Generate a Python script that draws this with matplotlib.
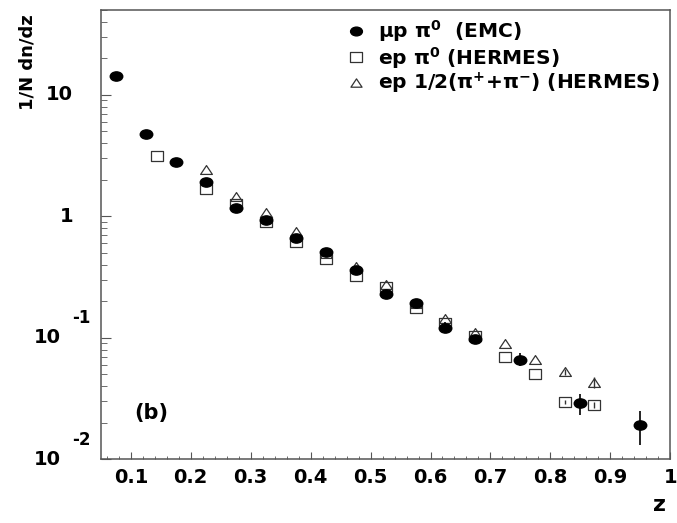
import matplotlib
matplotlib.use("Agg")
import matplotlib.pyplot as plt
from matplotlib.path import Path
from matplotlib.transforms import Affine2D, blended_transform_factory
from matplotlib.lines import Line2D
from matplotlib.ticker import FixedLocator, MultipleLocator, NullFormatter

plt.rcParams["font.family"] = "DejaVu Sans"
plt.rcParams["font.weight"] = "bold"
plt.rcParams["mathtext.fontset"] = "dejavusans"

# EMC, mu p -> pi0
emc_z = [0.075, 0.125, 0.175, 0.225, 0.275, 0.325, 0.375, 0.425, 0.475, 0.525,
         0.575, 0.625, 0.675, 0.75, 0.85, 0.95]
emc_y = [14.3, 4.73, 2.79, 1.90, 1.17, 0.93, 0.658, 0.504, 0.36, 0.231,
         0.195, 0.121, 0.097, 0.066, 0.0288, 0.0191]
emc_elo = [0, 0, 0, 0, 0, 0, 0, 0, 0, 0, 0, 0.012, 0.008, 0.008, 0.0058, 0.0061]
emc_ehi = [0, 0, 0, 0, 0, 0, 0, 0, 0, 0, 0, 0.014, 0.009, 0.009, 0.0056, 0.0059]

# HERMES, e p -> pi0
h0_z = [0.143, 0.225, 0.275, 0.325, 0.375, 0.425, 0.475, 0.525, 0.575, 0.625,
        0.675, 0.725, 0.775, 0.825, 0.873]
h0_y = [3.16, 1.69, 1.27, 0.89, 0.61, 0.445, 0.324, 0.262, 0.177, 0.133,
        0.103, 0.069, 0.050, 0.0296, 0.0278]
h0_err = [0, 0, 0, 0, 0, 0, 0, 0, 0, 0, 0, 0, 0, 0.0012, 0.0015]

# HERMES, e p -> 1/2(pi+ + pi-)
hc_z = [0.225, 0.275, 0.325, 0.375, 0.425, 0.475, 0.525, 0.575, 0.625, 0.675,
        0.725, 0.775, 0.825, 0.873]
hc_y = [2.39, 1.44, 1.06, 0.737, 0.49, 0.384, 0.272, 0.19, 0.142, 0.110,
        0.088, 0.065, 0.0525, 0.042]
hc_elo = [0, 0, 0, 0, 0, 0, 0, 0, 0, 0, 0, 0, 0.003, 0.0036]
hc_ehi = [0, 0, 0, 0, 0, 0, 0, 0, 0, 0, 0, 0, 0.003, 0.0058]

ytick_vals = [0.01, 0.1, 1, 10]
ytick_base = ["10", "10", "1", "10"]
ytick_exp = ["-2", "-1", "", ""]
xtick_vals = [0.1, 0.2, 0.3, 0.4, 0.5, 0.6, 0.7, 0.8, 0.9, 1.0]
xtick_labels = ["0.1", "0.2", "0.3", "0.4", "0.5", "0.6", "0.7", "0.8", "0.9", "1"]

# markers stretched sideways like the scanned figure
ellipse = Path.unit_circle().transformed(Affine2D().scale(1.35, 1.0))
box = Path([(-1.35, -1), (1.35, -1), (1.35, 1), (-1.35, 1), (-1.35, -1)],
           [Path.MOVETO, Path.LINETO, Path.LINETO, Path.LINETO, Path.CLOSEPOLY])
tri = Path([(-1.2, -0.8), (1.2, -0.8), (0, 1.0), (-1.2, -0.8)],
           [Path.MOVETO, Path.LINETO, Path.LINETO, Path.CLOSEPOLY])

fig = plt.figure(figsize=(6.77, 5.23), dpi=100)
ax = fig.add_axes([0.149, 0.122, 0.841, 0.859])

ax.errorbar(hc_z, hc_y, yerr=[hc_elo, hc_ehi], fmt="none", ecolor="#333333",
            elinewidth=1.0, zorder=2)
ax.plot(hc_z, hc_y, linestyle="none", marker=tri, ms=8.5, mfc="none",
        mec="#333333", mew=0.9, zorder=3)
ax.errorbar(h0_z, h0_y, yerr=h0_err, fmt="none", ecolor="#333333",
            elinewidth=1.0, zorder=2)
ax.plot(h0_z, h0_y, linestyle="none", marker=box, ms=9.2, mfc="none",
        mec="#333333", mew=0.9, zorder=3)
ax.errorbar(emc_z, emc_y, yerr=[emc_elo, emc_ehi], fmt="none", ecolor="black",
            elinewidth=1.2, zorder=4)
ax.plot(emc_z, emc_y, linestyle="none", marker=ellipse, ms=9, mfc="black",
        mec="black", zorder=5)

ax.set_yscale("log")
ax.set_xlim(0.05, 1.0)
ax.set_ylim(0.01, 50)

ax.xaxis.set_major_locator(FixedLocator(xtick_vals))
ax.set_xticklabels(xtick_labels, fontsize=14, fontweight="bold")
ax.xaxis.set_minor_locator(MultipleLocator(0.02))
ax.yaxis.set_major_locator(FixedLocator(ytick_vals))
ax.yaxis.set_major_formatter(NullFormatter())
ax.yaxis.set_minor_formatter(NullFormatter())
ax.tick_params(axis="both", which="both", direction="in", top=False, right=False,
               color="#555555")
ax.tick_params(axis="x", which="major", length=5, pad=6)
ax.tick_params(axis="x", which="minor", length=2.5)
ax.tick_params(axis="y", which="major", length=7.5)
ax.tick_params(axis="y", which="minor", length=4)
for sp in ax.spines.values():
    sp.set_color("#555555")
    sp.set_linewidth(1.1)

# y tick labels in the ROOT style: base and a raised exponent
trans = blended_transform_factory(ax.transAxes, ax.transData)
for v, b, e in zip(ytick_vals, ytick_base, ytick_exp):
    if e:
        ax.annotate(b, xy=(0, v), xycoords=trans, xytext=(-29, 0),
                    textcoords="offset points", ha="right", va="center",
                    fontsize=14, fontweight="bold")
        ax.annotate(e, xy=(0, v), xycoords=trans, xytext=(-21, 14),
                    textcoords="offset points", ha="left", va="center",
                    fontsize=12, fontweight="bold")
    else:
        ax.annotate(b, xy=(0, v), xycoords=trans, xytext=(-20, 0),
                    textcoords="offset points", ha="right", va="center",
                    fontsize=14, fontweight="bold")

fig.text(28 / 677, 1 - 14 / 523, "1/N dn/dz", rotation=90, ha="center",
         va="top", fontsize=13, fontweight="bold")
fig.text(660 / 677, 1 - 505 / 523, "z", ha="center", va="center",
         fontsize=16, fontweight="bold")
fig.text(151 / 677, 1 - 413 / 523, "(b)", ha="center", va="center",
         fontsize=15, fontweight="bold")

handles = [
    Line2D([], [], linestyle="none", marker=ellipse, ms=8.5, mfc="black", mec="black"),
    Line2D([], [], linestyle="none", marker=box, ms=9, mfc="none", mec="#333333", mew=0.9),
    Line2D([], [], linestyle="none", marker=tri, ms=8, mfc="none", mec="#333333", mew=0.9),
]
labels = [
    r"$\mathrm{\mu}$p $\mathrm{\pi}^{\mathbf{0}}$  (EMC)",
    r"ep $\mathrm{\pi}^{\mathbf{0}}$ (HERMES)",
    r"ep 1/2($\mathrm{\pi}^{\mathbf{+}}$+$\mathrm{\pi}^{\mathbf{-}}$) (HERMES)",
]
ax.legend(handles, labels, loc="upper left", bbox_to_anchor=(0.43, 0.981),
          frameon=False, prop={"size": 14.5, "weight": "bold"}, handlelength=1.0,
          handletextpad=0.6, labelspacing=0.02, borderpad=0, borderaxespad=0)

fig.savefig("out.png", dpi=100)
